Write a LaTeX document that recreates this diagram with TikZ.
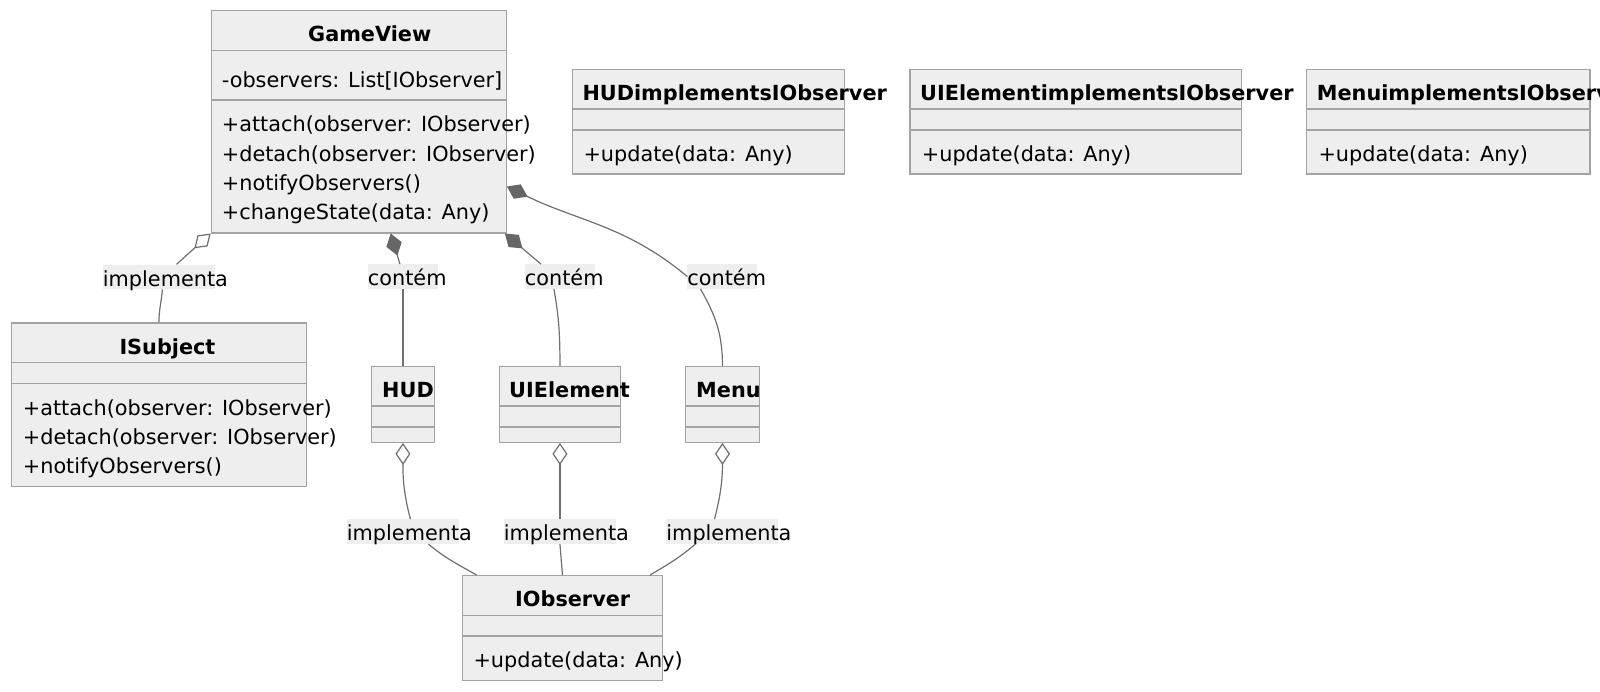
\documentclass[tikz,border=0pt]{standalone}
\usepackage{fontspec}
\setmainfont{DejaVu Sans}
\usetikzlibrary{positioning,arrows.meta}
\definecolor{boxfill}{HTML}{EEEEEE}
\definecolor{boxline}{HTML}{A3A3A3}
\definecolor{edgeline}{HTML}{6F6F6F}
\definecolor{dmdfill}{HTML}{666666}
\begin{document}
\begin{tikzpicture}[x=1pt,y=1pt,
  cls/.style={draw=boxline, fill=boxfill, line width=1.2pt, rectangle, anchor=north west, inner sep=0pt},
  sep/.style={draw=boxline, line width=1.2pt},
  txt/.style={anchor=base west, inner sep=0pt, font=\fontsize{20.8}{25}\selectfont},
  ttl/.style={txt, font=\fontsize{20.8}{25}\selectfont\bfseries},
  lbl/.style={fill=boxfill, inner sep=0pt, text height=21.5pt, text depth=3pt, font=\fontsize{20.8}{25}\selectfont},
  conn/.style={draw=edgeline, line width=1.2pt},
  compos/.style={conn, {Diamond[length=23pt, width=16pt, fill=dmdfill, color=dmdfill]}-},
  aggreg/.style={conn, {Diamond[length=22pt, width=15pt, fill=white]}-}]
\useasboundingbox (0,0) rectangle (1600,-691);

\node[cls, minimum width=295pt, minimum height=222.3pt] (gv) at (210.7,-10) {};
\draw[sep] ([yshift=-40.7pt]gv.north west) -- ([yshift=-40.7pt]gv.north east);
\draw[sep] ([yshift=-90pt]gv.north west) -- ([yshift=-90pt]gv.north east);
\node[ttl] (gvname) at (308,-41.7) {GameView};
\node[txt] (gvattr) at (221.7,-87.3) {-observers: List[IObserver]};
\node[txt] (gvm1) at (221.7,-131.7) {+attach(observer: IObserver)};
\node[txt] (gvm2) at (221.7,-161) {+detach(observer: IObserver)};
\node[txt] (gvm3) at (221.7,-190.3) {+notifyObservers()};
\node[txt] (gvm4) at (221.7,-219.6) {+changeState(data: Any)};

\node[cls, minimum width=295.3pt, minimum height=163.4pt] (isub) at (10.7,-322.3) {};
\draw[sep] ([yshift=-40.4pt]isub.north west) -- ([yshift=-40.4pt]isub.north east);
\draw[sep] ([yshift=-61pt]isub.north west) -- ([yshift=-61pt]isub.north east);
\node[ttl] (isubname) at (119.3,-354) {ISubject};
\node[txt] (isubm1) at (22.7,-415) {+attach(observer: IObserver)};
\node[txt] (isubm2) at (22.7,-444.3) {+detach(observer: IObserver)};
\node[txt] (isubm3) at (22.7,-473.6) {+notifyObservers()};

\node[cls, minimum width=62.7pt, minimum height=75.7pt] (hud) at (371,-366) {};
\draw[sep] ([yshift=-40pt]hud.north west) -- ([yshift=-40pt]hud.north east);
\draw[sep] ([yshift=-61pt]hud.north west) -- ([yshift=-61pt]hud.north east);
\node[ttl] (hudname) at (382,-397.7) {HUD};

\node[cls, minimum width=120.7pt, minimum height=75.7pt] (uiel) at (499,-366) {};
\draw[sep] ([yshift=-40pt]uiel.north west) -- ([yshift=-40pt]uiel.north east);
\draw[sep] ([yshift=-61pt]uiel.north west) -- ([yshift=-61pt]uiel.north east);
\node[ttl] (uielname) at (509,-397.7) {UIElement};

\node[cls, minimum width=73.7pt, minimum height=75.7pt] (menu) at (685,-366) {};
\draw[sep] ([yshift=-40pt]menu.north west) -- ([yshift=-40pt]menu.north east);
\draw[sep] ([yshift=-61pt]menu.north west) -- ([yshift=-61pt]menu.north east);
\node[ttl] (menuname) at (696,-397.7) {Menu};

\node[cls, minimum width=200.3pt, minimum height=105pt] (iobs) at (461.7,-575) {};
\draw[sep] ([yshift=-40.7pt]iobs.north west) -- ([yshift=-40.7pt]iobs.north east);
\draw[sep] ([yshift=-61pt]iobs.north west) -- ([yshift=-61pt]iobs.north east);
\node[ttl] (iobsname) at (515,-606.7) {IObserver};
\node[txt] (iobsm1) at (473.3,-667) {+update(data: Any)};

\node[cls, minimum width=272.3pt, minimum height=104.3pt] (hudimpl) at (571.7,-69) {};
\draw[sep] ([yshift=-40pt]hudimpl.north west) -- ([yshift=-40pt]hudimpl.north east);
\draw[sep] ([yshift=-61pt]hudimpl.north west) -- ([yshift=-61pt]hudimpl.north east);
\node[ttl] (hudimplname) at (582.3,-100.7) {HUDimplementsIObserver};
\node[txt] (hudimplm1) at (583.3,-161.7) {+update(data: Any)};

\node[cls, minimum width=331.4pt, minimum height=104.3pt] (uiimpl) at (909.3,-69) {};
\draw[sep] ([yshift=-40pt]uiimpl.north west) -- ([yshift=-40pt]uiimpl.north east);
\draw[sep] ([yshift=-61pt]uiimpl.north west) -- ([yshift=-61pt]uiimpl.north east);
\node[ttl] (uiimplname) at (920,-100.7) {UIElementimplementsIObserver};
\node[txt] (uiimplm1) at (921.7,-161.7) {+update(data: Any)};

\node[cls, minimum width=283.3pt, minimum height=104.3pt] (menuimpl) at (1306,-69) {};
\draw[sep] ([yshift=-40pt]menuimpl.north west) -- ([yshift=-40pt]menuimpl.north east);
\draw[sep] ([yshift=-61pt]menuimpl.north west) -- ([yshift=-61pt]menuimpl.north east);
\node[ttl] (menuimplname) at (1316.7,-100.7) {MenuimplementsIObserver};
\node[txt] (menuimplm1) at (1318.3,-161.7) {+update(data: Any)};

\node[lbl, above=33pt of isub] (lsub) {\makebox[112pt][l]{implementa}};
\node[lbl, above=77pt of hud] (lhud) {\makebox[70pt][l]{contém}};
\node[lbl, above=77pt of uiel] (lui) {\makebox[70pt][l]{contém}};
\node[lbl, above=77pt of menu] (lmenu) {\makebox[70pt][l]{contém}};
\node[lbl, below=76.3pt of hud] (lhudb) {\makebox[112pt][l]{implementa}};
\node[lbl, below=76.3pt of uiel] (luib) {\makebox[112pt][l]{implementa}};
\node[lbl, below=76.3pt of menu] (lmenub) {\makebox[112pt][l]{implementa}};

\draw[aggreg] (gv.south west) -- ([xshift=17.5pt]lsub.north);
\draw[conn] ([xshift=3.5pt]lsub.south) to[out=-95,in=90] (isub.north);
\draw[compos] ([xshift=180pt]gv.south west) -- ([xshift=-3pt]lhud.north);
\draw[conn] (lhud.south) -- (hud.north);
\draw[compos] ([xshift=-2pt]gv.south east) -- ([xshift=-19pt]lui.north);
\draw[conn] ([xshift=-6pt]lui.south) to[out=-80,in=90] (uiel.north);
\draw[compos] ([yshift=47pt]gv.south east) to[out=-26,in=140] (lmenu.west);
\draw[conn] ([xshift=-22pt]lmenu.south) to[out=-60,in=90] (menu.north);
\draw[aggreg] (hud.south) to[out=-90,in=105] ([xshift=7.5pt]lhudb.north);
\draw[conn] ([xshift=25.5pt]lhudb.south) to[out=-40,in=150] ([xshift=-86pt]iobs.north);
\draw[aggreg] (uiel.south) -- (luib.north);
\draw[conn] (luib.south) -- (iobs.north);
\draw[aggreg] (menu.south) to[out=-90,in=75] ([xshift=-8pt]lmenub.north);
\draw[conn] ([xshift=-27pt]lmenub.south) to[out=-140,in=30] ([xshift=87.5pt]iobs.north);

\end{tikzpicture}
\end{document}
